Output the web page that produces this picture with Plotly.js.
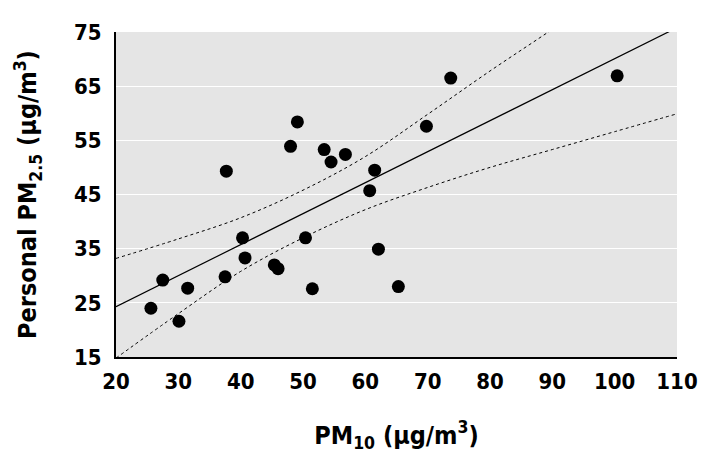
<!DOCTYPE html>
<html>
<head>
<meta charset="utf-8">
<script src="https://cdn.plot.ly/plotly-3.0.1.min.js"></script>
<style>html,body{margin:0;padding:0;background:#fff;}</style>
</head>
<body>
<div id="chart" style="width:702px;height:464px;"></div>
<script>
// Measured points (PM10 vs personal PM2.5)
const pm10 = [25.6, 27.5, 30.1, 31.5, 37.5, 37.7, 40.3, 40.7, 45.4, 46.0, 50.4, 51.5, 48.0, 49.1, 53.4, 54.5, 56.8, 60.7, 61.5, 62.1, 65.3, 69.8, 73.7, 100.4];
const pm25 = [24.0, 29.2, 21.6, 27.7, 29.8, 49.3, 37.0, 33.3, 32.0, 31.3, 37.0, 27.6, 53.9, 58.4, 53.3, 51.0, 52.4, 45.7, 49.5, 34.9, 28.0, 57.6, 66.5, 66.9];

// Regression line endpoints
const fitX = [20, 110];
const fitY = [24.3, 75.8];

// Confidence band
const bandX = [20, 30, 40, 50, 60, 70, 80, 90, 100, 110];
const upperY = [33.2, 36.8, 40.7, 45.8, 52.0, 59.8, 67.8, 75.5, 83.5, 91.5];
const lowerY = [14.8, 23.0, 30.8, 37.0, 42.2, 46.3, 50.0, 53.3, 56.6, 59.9];

const xTicks = [20, 30, 40, 50, 60, 70, 80, 90, 100, 110];
const yTicks = [15, 25, 35, 45, 55, 65, 75];

const FONT = '"Liberation Sans Narrow", "DejaVu Sans Condensed", "DejaVu Sans", sans-serif';

const traces = [
  {x: bandX, y: upperY, mode: 'lines', line: {color: '#000', width: 1, dash: '3px,3px', shape: 'spline'}, hoverinfo: 'skip'},
  {x: bandX, y: lowerY, mode: 'lines', line: {color: '#000', width: 1, dash: '3px,3px', shape: 'spline'}, hoverinfo: 'skip'},
  {x: fitX, y: fitY, mode: 'lines', line: {color: '#000', width: 1.2}},
  {x: pm10, y: pm25, mode: 'markers', marker: {color: '#000', size: 13}, cliponaxis: false}
];

const layout = {
  width: 702, height: 464,
  margin: {l: 116, r: 25, t: 32, b: 107},
  paper_bgcolor: '#ffffff',
  plot_bgcolor: '#e5e5e5',
  showlegend: false,
  font: {family: FONT, color: '#000', size: 22, weight: 'bold', stretch: 'condensed'},
  xaxis: {
    range: [20, 110], tickvals: xTicks, ticktext: xTicks.map(String),
    showgrid: false, zeroline: false,
    showline: true, linecolor: '#000', linewidth: 2,
    ticks: 'outside', ticklen: 4, tickcolor: 'rgba(0,0,0,0)',
    tickfont: {family: FONT, size: 22, weight: 'bold', stretch: 'condensed'},
    title: {text: 'PM<sub>10</sub> (µg/m<sup>3</sup>)', font: {family: FONT, size: 25, weight: 'bold', stretch: 'condensed'}, standoff: 33}
  },
  yaxis: {
    range: [15, 75], tickvals: yTicks, ticktext: yTicks.map(String),
    showgrid: true, gridcolor: '#ffffff', gridwidth: 1.2,
    zeroline: false,
    showline: true, linecolor: '#000', linewidth: 2,
    ticks: 'outside', ticklen: 8, tickcolor: 'rgba(0,0,0,0)',
    tickfont: {family: FONT, size: 22, weight: 'bold', stretch: 'condensed'},
    title: {text: 'Personal PM<sub>2.5</sub> (µg/m<sup>3</sup>)', font: {family: FONT, size: 25, weight: 'bold', stretch: 'condensed'}, standoff: 30}
  }
};

Plotly.newPlot('chart', traces, layout, {staticPlot: true, displayModeBar: false});
</script>
</body>
</html>
